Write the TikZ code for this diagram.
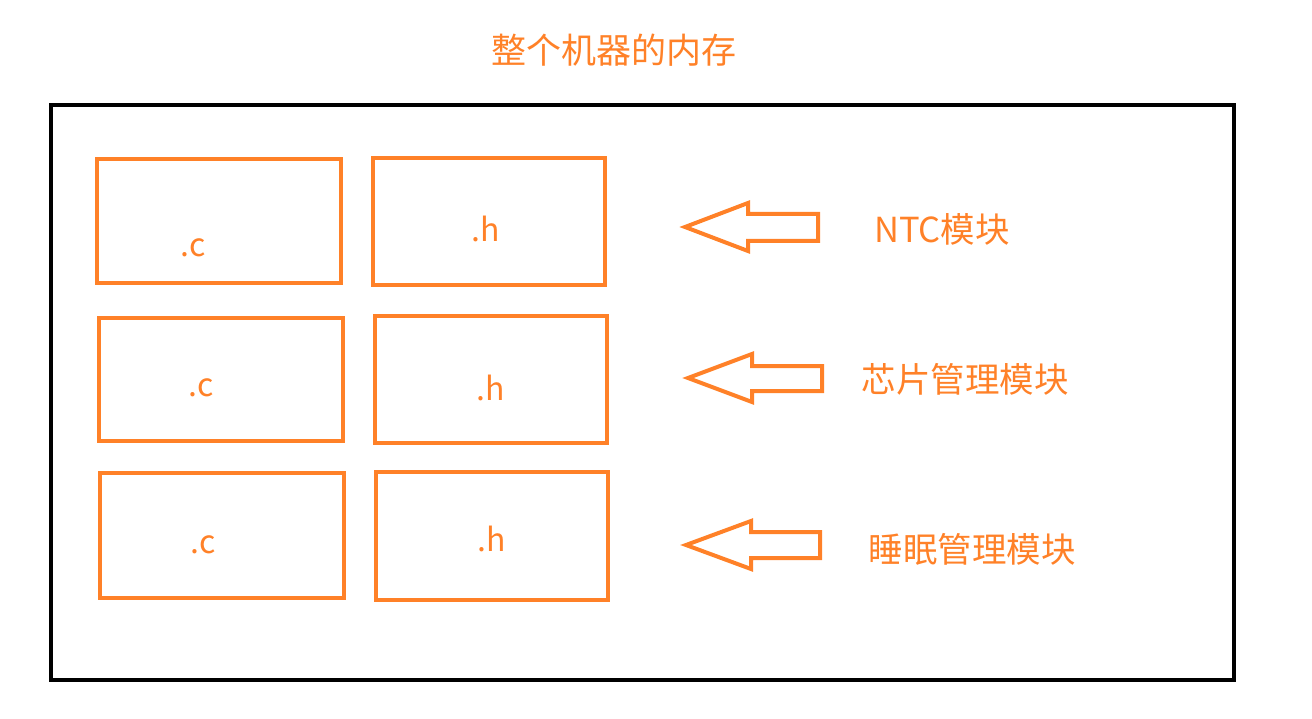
\documentclass[tikz,border=0pt]{standalone}
\usepackage{fontspec}
\setmainfont{Noto Sans CJK SC}
\definecolor{org}{HTML}{FF8128}
\begin{document}
\begin{tikzpicture}[x=1pt,y=-1pt,
  frame/.style={draw=black,line width=4pt},
  filebox/.style={draw=org,line width=4pt},
  ftext/.style={text=org,font=\fontsize{32}{38}\selectfont,inner sep=0pt},
  lbl/.style={text=org,font=\fontsize{34.5}{41}\selectfont,inner sep=0pt},
  blockarrow/.style={draw=org,line width=4pt,line join=miter}]
\useasboundingbox (0,0) rectangle (1312,719);
\node[text=org,font=\fontsize{35}{42}\selectfont,inner sep=0pt] (title) at (614,50) {整个机器的内存};
\draw[frame] (51,105) rectangle (1234,680);
% row 1
\draw[filebox] (97,159) rectangle (341,283);
\draw[filebox] (373,158) rectangle (605,285);
\node[ftext] (c1) at (193,248) {.c};
\node[ftext] (h1) at (486,229) {.h};
% row 2
\draw[filebox] (99,318) rectangle (343,441);
\draw[filebox] (375,316) rectangle (607,443);
\node[ftext] (c2) at (201,388) {.c};
\node[ftext] (h2) at (491,388) {.h};
% row 3
\draw[filebox] (100,473) rectangle (344,598);
\draw[filebox] (376,472) rectangle (608,600);
\node[ftext] (c3) at (203,545) {.c};
\node[ftext] (h3) at (492,539) {.h};
% arrows
\draw[blockarrow] (685,227) -- (748,203) -- (748,214) -- (818,214) -- (818,241) -- (748,241) -- (748,251) -- cycle;
\draw[blockarrow] (688,378) -- (752,354) -- (752,366) -- (822,366) -- (822,391) -- (752,391) -- (752,402) -- cycle;
\draw[blockarrow] (686,545) -- (751,521) -- (751,532) -- (820,532) -- (820,558) -- (751,558) -- (751,569) -- cycle;
% labels
\node[lbl] (l1) at (942,229) {NTC模块};
\node[lbl] (l2) at (965,379) {芯片管理模块};
\node[lbl] (l3) at (972,549) {睡眠管理模块};
\end{tikzpicture}
\end{document}
